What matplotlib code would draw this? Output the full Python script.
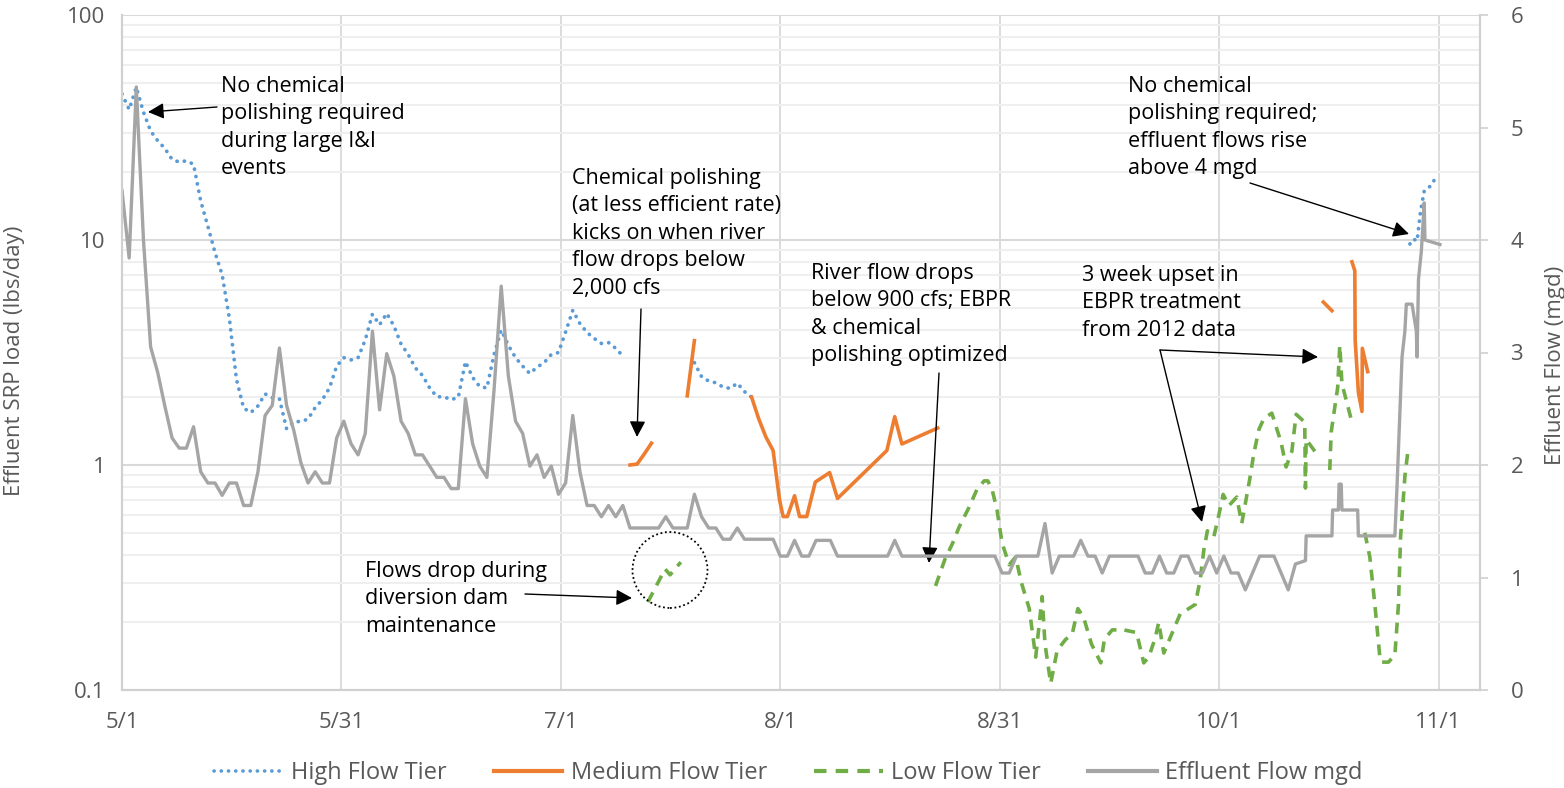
import numpy as np
import matplotlib
matplotlib.use("Agg")
import matplotlib.pyplot as plt
from matplotlib.lines import Line2D
from matplotlib.patches import Ellipse
from matplotlib.ticker import LogLocator, NullFormatter, FixedLocator
from matplotlib.transforms import IdentityTransform

plt.rcParams['font.family'] = ['Open Sans', 'DejaVu Sans']

nan = np.nan

# ---- data (x = days since 5/1) ----
tick_days = np.linspace(0, 184, 7)
tick_labels = ['5/1', '5/31', '7/1', '8/1', '8/31', '10/1', '11/1']

high_day = [0, 1, 2, 3, 4, 5, 6, 7, 8, 9, 10, 11, 12, 13, 14, 15, 16, 17, 18, 19,
            20, 21, 22, 23, 24, 25, 26, 27, 28, 29, 30, 31, 32, 33, 34, 35, 36, 37, 38, 39,
            40, 41, 42, 43, 44, 45, 46, 47, 48, 49, 50, 51, 52, 53, 54, 55, 56, 57, 58, 59,
            60, 61, 62, 63, 64, 65, 66, 67, 68, 69, 70, nan,
            80, 81, 82, 83, 84, 85, 86, 87, 88, nan,
            180, 180.5, 181, 181.5, 182, 183, 183.7]
high_val = [44.6, 38, 47.7, 37, 30.5, 27.6, 25.5, 22.8, 22.2, 22.5, 21.7, 14.9, 11.5, 8.8, 7.0, 4.5, 2.4, 1.79, 1.71, 1.83,
            2.07, 1.99, 1.97, 1.45, 1.56, 1.56, 1.6, 1.8, 1.95, 2.2, 2.75, 3.0, 2.93, 3.0, 3.6, 4.68, 4.2, 4.72, 4.15, 3.45,
            3.1, 2.7, 2.5, 2.2, 2.01, 2.01, 1.95, 2.0, 2.88, 2.45, 2.23, 2.2, 3.1, 3.98, 3.4, 3.0, 2.75, 2.55, 2.72, 2.85,
            3.1, 3.16, 3.9, 4.87, 4.25, 3.88, 3.65, 3.47, 3.5, 3.3, 3.05, nan,
            2.85, 2.47, 2.36, 2.32, 2.22, 2.19, 2.31, 2.12, 2.0, nan,
            9.6, 10.1, 9.9, 13.5, 16.5, 17.5, 19.2]

medium_day = [71, 72, 73, 74, nan, 79, 80, nan,
              88, 89, 90, 91, 91.9, 92.4, 93, 94, 94.7, 95.7, 96.9, 98.9, 100, 106.9, 108, 109, 114, nan,
              167.9, 169.1, nan,
              171.9, 172.3, 172.35, 172.8, 173.3, 173.35, 174.1]
medium_val = [1.0, 1.01, 1.12, 1.25, nan, 2.03, 3.57, nan,
              2.0, 1.6, 1.33, 1.16, 0.7, 0.59, 0.59, 0.73, 0.59, 0.59, 0.84, 0.925, 0.71, 1.16, 1.64, 1.24, 1.46, nan,
              5.3, 4.85, nan,
              8.0, 7.3, 3.6, 2.1, 1.73, 3.3, 2.6]

low_day = [73.5, 75.9, 76.6, 78.1, nan,
           113.7, 115, 116.1, 117, 118.4, 119.5, 120.5, 121.0, 121.6, 122.3, 123, 124, 124.9, 125.7, 126.8,
           127.7, 128.6, 129.0, 129.8, 130.7, 131.9, 132.8, 133.6, 134.4, 135.5, 136.8, 137.3, 138.4, 140.0,
           141.8, 142.8, 143.5, 144.4, 144.9, 145.6, 146.3, 147.2, 147.9, 148.9, 150.0, 150.7, 151.2, 151.7,
           152.6, 153.3, 153.9, 154.7, 155.8, 156.5, 157.6, 158.2, 158.9, 159.6, 160.7, 162.0, 162.7, 163.5,
           164.1, 165.3, 165.4, 165.5, 166.8, nan,
           168.8, 169.0, 169.6, 169.9, 170.2, 170.5, 171.9, nan,
           173.7, 174.4, 175.1, 175.8, 176.0, 177.0, 177.9, 178.4, 178.7, 179.3, 179.8]
low_val = [0.246, 0.345, 0.325, 0.37, nan,
           0.29, 0.38, 0.45, 0.53, 0.65, 0.78, 0.85, 0.85, 0.78, 0.63, 0.45, 0.36, 0.39, 0.30, 0.23,
           0.14, 0.26, 0.16, 0.107, 0.15, 0.168, 0.177, 0.23, 0.21, 0.16, 0.132, 0.168, 0.185, 0.185,
           0.18, 0.132, 0.14, 0.17, 0.2, 0.146, 0.165, 0.193, 0.218, 0.228, 0.24, 0.31, 0.42, 0.51,
           0.48, 0.6, 0.74, 0.66, 0.72, 0.55, 0.86, 1.13, 1.44, 1.61, 1.70, 1.26, 0.98, 1.15,
           1.68, 1.55, 0.79, 1.3, 1.14, nan,
           0.95, 1.4, 1.9, 2.2, 3.4, 2.3, 1.55, nan,
           0.5, 0.39, 0.24, 0.14, 0.133, 0.133, 0.143, 0.24, 0.48, 0.89, 1.21]

flow_day = list(range(0, 165)) + [165.4, 165.5, 169.1, 169.2, 170.0, 170.1, 170.4, 170.5, 172.7, 172.8, 177.9,
                                  178.2, 178.9, 179.3, 179.5, 180.3, 180.9, 181.0, 181.2, 181.6, 182.0, 182.1, 184.2]
flow_mgd = [4.44, 3.84, 5.36, 4.0, 3.05, 2.82, 2.52, 2.24, 2.15, 2.15, 2.34, 1.94, 1.84, 1.84, 1.73, 1.84, 1.84, 1.64, 1.64, 1.94,
            2.44, 2.53, 3.04, 2.53, 2.31, 2.02, 1.84, 1.94, 1.84, 1.84, 2.24, 2.39, 2.19, 2.09, 2.28, 3.19, 2.49, 2.99, 2.79, 2.39,
            2.28, 2.09, 2.09, 1.99, 1.89, 1.89, 1.79, 1.79, 2.59, 2.19, 1.99, 1.89, 2.67, 3.59, 2.79, 2.39, 2.28, 1.99, 2.09, 1.89,
            1.99, 1.74, 1.84, 2.44, 1.94, 1.64, 1.64, 1.54, 1.64, 1.54, 1.64, 1.44, 1.44, 1.44, 1.44, 1.44, 1.54, 1.44, 1.44, 1.44,
            1.74, 1.54, 1.44, 1.44, 1.34, 1.34, 1.44, 1.34, 1.34, 1.34, 1.34, 1.34, 1.19, 1.19, 1.33, 1.19, 1.19, 1.33, 1.33, 1.33,
            1.19, 1.19, 1.19, 1.19, 1.19, 1.19, 1.19, 1.19, 1.33, 1.19, 1.19, 1.19, 1.19, 1.19, 1.19, 1.19, 1.19, 1.19, 1.19, 1.19,
            1.19, 1.19, 1.19, 1.04, 1.04, 1.19, 1.19, 1.19, 1.19, 1.48, 1.04, 1.19, 1.19, 1.19, 1.33, 1.19, 1.19, 1.04, 1.19, 1.19,
            1.19, 1.19, 1.19, 1.04, 1.04, 1.19, 1.04, 1.04, 1.19, 1.19, 1.04, 1.04, 1.19, 1.04, 1.19, 1.04, 1.04, 0.89, 1.04, 1.19,
            1.19, 1.19, 1.04, 0.89, 1.12,
            1.15, 1.37, 1.37, 1.6, 1.6, 1.83, 1.83, 1.6, 1.6, 1.37, 1.37,
            1.81, 2.96, 3.19, 3.43, 3.43, 3.19, 2.96, 3.65, 3.9, 4.33, 4.0, 3.96]

# ---- figure ----
W, H = 1564, 788
fig = plt.figure(figsize=(W / 100, H / 100), dpi=100)
ax = fig.add_axes([122 / W, 98 / H, 1358 / W, 675 / H])
ax2 = ax.twinx()

blue, orange, green, gray = '#5B9BD5', '#ED7D31', '#70AD47', '#A5A5A5'
txt_gray = '#595959'

ax.plot(high_day, high_val, color=blue, lw=2.7, linestyle=(0, (0.05, 1.95)),
        dash_capstyle='round', zorder=3)
ax.plot(medium_day, medium_val, color=orange, lw=2.6, solid_joinstyle='round', zorder=3)
ax.plot(low_day, low_val, color=green, lw=2.6, linestyle=(0, (3.0, 2.2)), zorder=3)
ax2.plot(flow_day, flow_mgd, color=gray, lw=2.4, solid_joinstyle='round', zorder=2)

ax.set_yscale('log')
ax.set_ylim(0.1, 100)
ax.set_xlim(0, 1358 / 7.155)
ax2.set_ylim(0, 6)

ax.yaxis.set_major_locator(FixedLocator([0.1, 1, 10, 100]))
ax.set_yticklabels(['0.1', '1', '10', '100'])
ax.yaxis.set_minor_locator(LogLocator(base=10, subs=np.arange(2, 10)))
ax.yaxis.set_minor_formatter(NullFormatter())
ax.set_xticks(tick_days)
ax.set_xticklabels(tick_labels)
ax2.set_yticks(range(0, 7))

ax.grid(True, which='major', axis='y', color='#d9d9d9', lw=1.5, zorder=0)
ax.grid(True, which='minor', axis='y', color='#efefef', lw=1.5, zorder=0)
ax.grid(True, which='major', axis='x', color='#d9d9d9', lw=1.3, zorder=0)
ax.set_axisbelow(True)

for a in (ax, ax2):
    a.spines['top'].set_visible(False)
    for s in ('left', 'right', 'bottom'):
        a.spines[s].set_color('#d0d0d0')
        a.spines[s].set_linewidth(1.5)
    a.tick_params(which='both', length=0, labelsize=16, colors=txt_gray)
ax.tick_params(axis='y', pad=12)
ax.tick_params(axis='x', pad=16)
ax2.tick_params(axis='y', length=6, width=1.2, color='#d0d0d0', pad=16)

ax.set_ylabel('Effluent SRP load (lbs/day)', fontsize=16, color=txt_gray)
ax.yaxis.set_label_coords(-0.0714, 0.487)
ax2.set_ylabel('Effluent Flow (mgd)', fontsize=16, color=txt_gray, rotation=90)
ax2.yaxis.set_label_coords(1.048, 0.481)

# ---- annotations (figure pixel positions, origin bottom-left) ----
def px(x, y):
    return (x, H - y)

ann_kw = dict(fontsize=15.5, color='black', ha='left', va='top', linespacing=1.4)
arrow_kw = dict(arrowstyle='-|>', color='black', lw=1.0, mutation_scale=24, shrinkA=0, shrinkB=0)

def note(text, xy_text, xy_tip=None, tail=None):
    fig.text(xy_text[0] / W, (H - xy_text[1]) / H, text, **ann_kw)
    if xy_tip is not None:
        ax.annotate('', xy=px(*xy_tip), xycoords='figure pixels',
                    xytext=px(*tail), textcoords='figure pixels', arrowprops=arrow_kw)

note('No chemical\npolishing required\nduring large I&I\nevents', (221, 76), (148, 112), (217, 107))
note('Chemical polishing\n(at less efficient rate)\nkicks on when river\nflow drops below\n2,000 cfs',
     (572, 168), (637, 437), (641, 309))
note('River flow drops\nbelow 900 cfs; EBPR\n& chemical\npolishing optimized',
     (811, 263), (929, 563), (939, 373))
note('3 week upset in\nEBPR treatment\nfrom 2012 data', (1082, 265), (1202, 522), (1160, 350))
ax.annotate('', xy=px(1318, 357), xycoords='figure pixels',
            xytext=px(1160, 350), textcoords='figure pixels', arrowprops=arrow_kw)
note('No chemical\npolishing required;\neffluent flows rise\nabove 4 mgd', (1128, 76), (1409, 234), (1250, 183))
note('Flows drop during\ndiversion dam\nmaintenance', (365, 561), (632, 598), (525, 594))

circle = Ellipse(px(670, 570), 75, 76, fill=False, edgecolor='black', lw=1.3,
                 linestyle=(0, (1, 1.5)), transform=IdentityTransform(), zorder=5)
fig.add_artist(circle)

# ---- legend ----
handles = [Line2D([], [], color=blue, lw=2.6, linestyle=(0, (0.05, 1.95)), dash_capstyle='round'),
           Line2D([], [], color=orange, lw=3),
           Line2D([], [], color=green, lw=3, linestyle=(0, (3.0, 2.2))),
           Line2D([], [], color=gray, lw=3)]
labels = ['High Flow Tier', 'Medium Flow Tier', 'Low Flow Tier', 'Effluent Flow mgd']
leg = fig.legend(handles, labels, loc='center', bbox_to_anchor=(0.504, (H - 773) / H), ncol=4,
                 frameon=False, fontsize=17, handlelength=2.9, handletextpad=0.35, columnspacing=2.0)
for t in leg.get_texts():
    t.set_color(txt_gray)

fig.savefig('out.png', dpi=100)
